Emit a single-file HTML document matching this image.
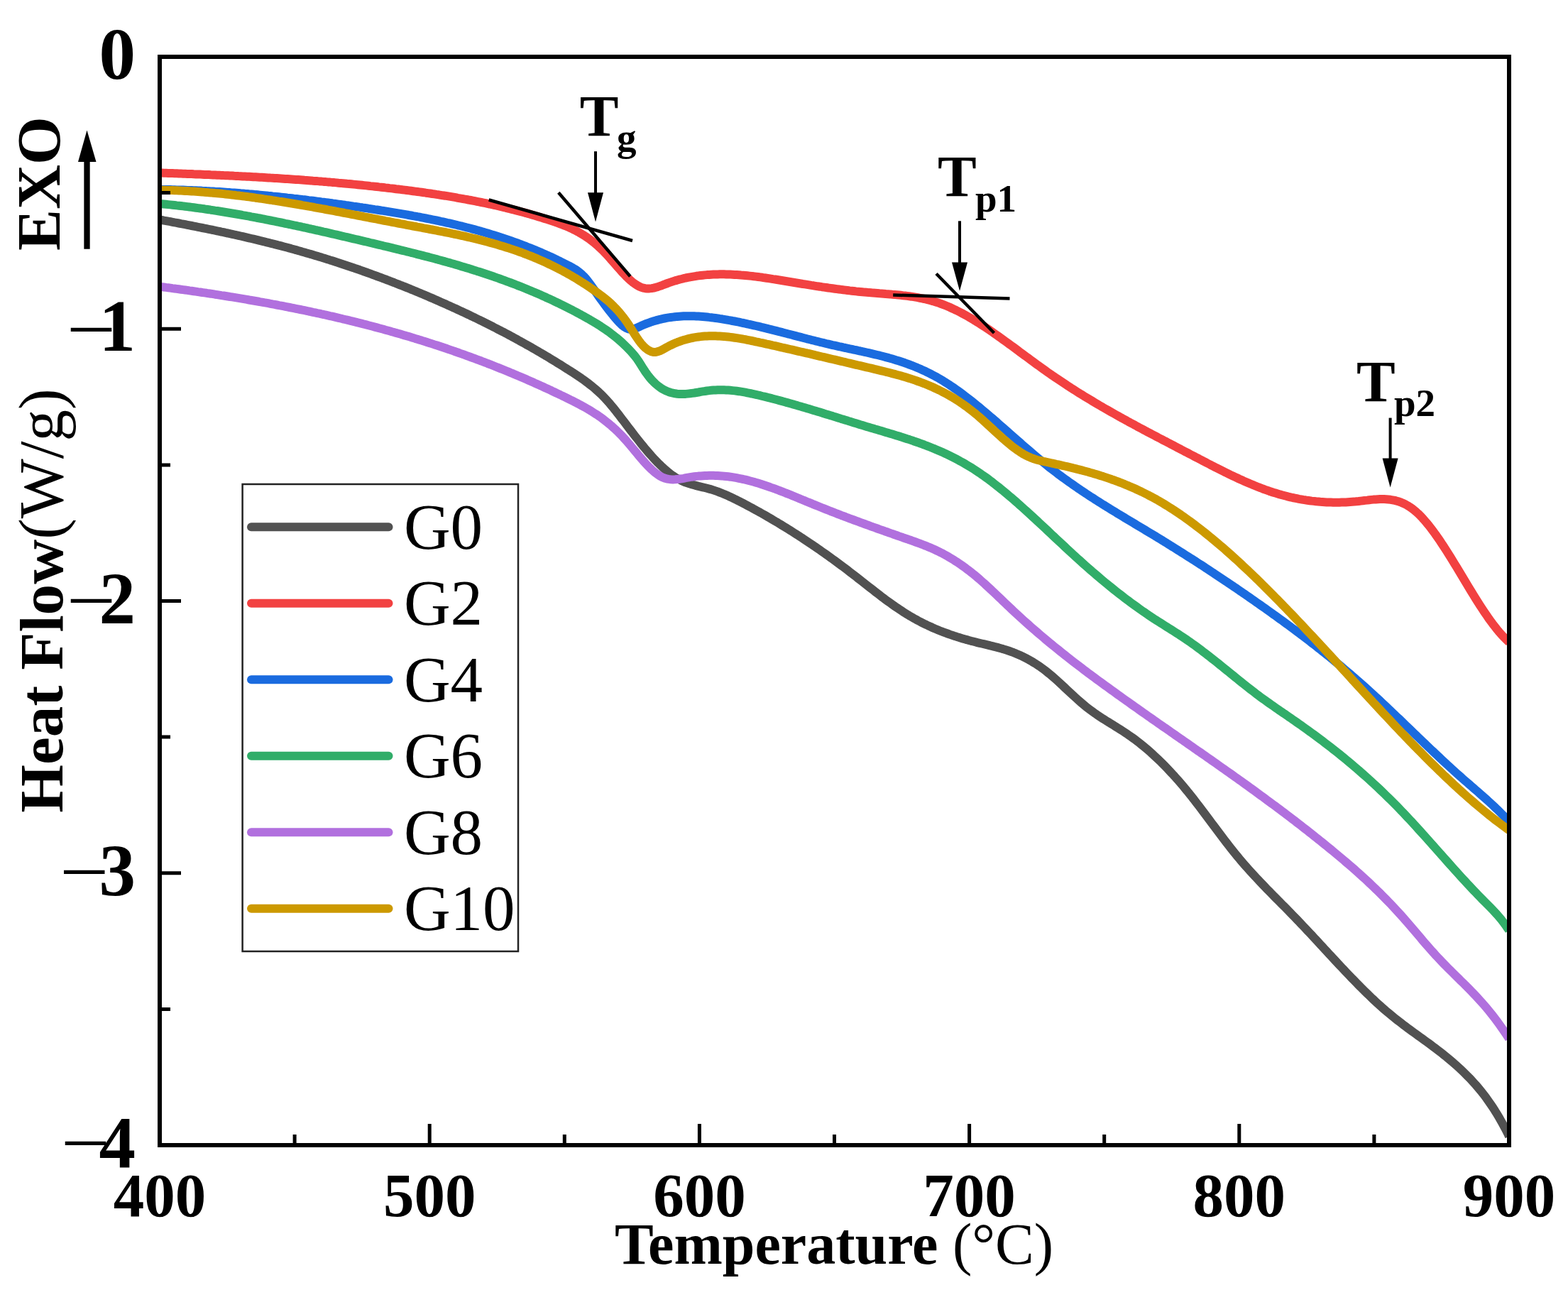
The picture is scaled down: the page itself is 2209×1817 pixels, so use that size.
<!DOCTYPE html><html><head><meta charset="utf-8"><title>DSC curves</title><style>html,body{margin:0;padding:0;background:#fff}svg{display:block}</style></head><body>
<svg width="2209" height="1817" viewBox="0 0 2209 1817" font-family="'Liberation Serif', 'Times New Roman', serif">
<rect x="0" y="0" width="2209" height="1817" fill="#fff"/>
<defs><clipPath id="plot"><rect x="225" y="80" width="1901" height="1533"/></clipPath></defs>
<g clip-path="url(#plot)">
<path d="M225.0 309.5 L228.0 310.0 231.0 310.6 234.0 311.1 237.0 311.7 240.0 312.2 243.0 312.8 246.0 313.4 249.0 313.9 252.0 314.5 255.0 315.1 258.0 315.6 261.0 316.2 264.0 316.8 267.0 317.4 270.0 318.0 273.0 318.6 276.0 319.2 279.0 319.8 282.0 320.4 285.0 321.0 288.0 321.6 291.0 322.2 294.0 322.8 297.0 323.4 300.0 324.0 303.0 324.7 306.0 325.3 309.0 325.9 312.0 326.6 315.0 327.2 318.0 327.9 321.0 328.5 324.0 329.2 327.0 329.8 330.0 330.5 333.0 331.2 336.0 331.8 339.0 332.5 342.0 333.2 345.0 333.9 348.0 334.6 351.0 335.3 354.0 336.0 357.0 336.7 360.0 337.4 363.0 338.1 366.0 338.9 369.0 339.6 372.0 340.3 375.0 341.1 378.0 341.8 381.0 342.6 384.0 343.3 387.0 344.1 390.0 344.9 393.0 345.7 396.0 346.4 399.0 347.2 402.0 348.0 405.0 348.8 408.0 349.6 411.0 350.5 414.0 351.3 417.0 352.1 420.0 353.0 423.0 353.8 426.0 354.7 429.0 355.5 432.0 356.4 435.0 357.3 438.0 358.1 441.0 359.0 444.0 359.9 447.0 360.8 450.0 361.7 453.0 362.6 456.0 363.6 459.0 364.5 462.0 365.4 465.0 366.4 468.0 367.3 471.0 368.3 474.0 369.3 477.0 370.2 480.0 371.2 483.0 372.2 486.0 373.2 489.0 374.2 492.0 375.2 495.0 376.2 498.0 377.2 501.0 378.3 504.0 379.3 507.0 380.3 510.0 381.4 513.0 382.5 516.0 383.5 519.0 384.6 522.0 385.7 525.0 386.8 528.0 387.9 531.0 389.0 534.0 390.1 537.0 391.2 540.0 392.3 543.0 393.4 546.0 394.6 549.0 395.7 552.0 396.9 555.0 398.0 558.0 399.2 561.0 400.4 564.0 401.6 567.0 402.7 570.0 403.9 573.0 405.1 576.0 406.3 579.0 407.6 582.0 408.8 585.0 410.0 588.0 411.3 591.0 412.5 594.0 413.8 597.0 415.0 600.0 416.3 603.0 417.6 606.0 418.9 609.0 420.1 612.0 421.4 615.0 422.7 618.0 424.1 621.0 425.4 624.0 426.7 627.0 428.0 630.0 429.4 633.0 430.7 636.0 432.1 639.0 433.5 642.0 434.8 645.0 436.2 648.0 437.6 651.0 439.0 654.0 440.4 657.0 441.8 660.0 443.2 663.0 444.7 666.0 446.1 669.0 447.5 672.0 449.0 675.0 450.5 678.0 451.9 681.0 453.4 684.0 454.9 687.0 456.4 690.0 457.9 693.0 459.4 696.0 461.0 699.0 462.5 702.0 464.1 705.0 465.6 708.0 467.2 711.0 468.7 714.0 470.3 717.0 471.9 720.0 473.5 723.0 475.1 726.0 476.8 729.0 478.4 732.0 480.1 735.0 481.7 738.0 483.4 741.0 485.1 744.0 486.7 747.0 488.4 750.0 490.2 753.0 491.9 756.0 493.6 759.0 495.4 762.0 497.1 765.0 498.9 768.0 500.7 771.0 502.4 774.0 504.2 777.0 506.1 780.0 507.9 783.0 509.7 786.0 511.6 789.0 513.4 792.0 515.3 795.0 517.2 798.0 519.1 801.0 521.0 804.0 522.9 807.0 524.8 810.0 526.8 813.0 528.8 816.0 530.8 819.0 532.8 822.0 534.9 825.0 537.1 828.0 539.3 831.0 541.7 834.0 544.0 837.0 546.5 840.0 549.1 843.0 551.8 846.0 554.6 849.0 557.6 852.0 560.7 855.0 563.9 858.0 567.2 861.0 570.8 864.0 574.4 867.0 578.1 870.0 582.0 873.0 585.8 876.0 589.8 879.0 593.7 882.0 597.7 885.0 601.6 888.0 605.5 891.0 609.4 894.0 613.3 897.0 617.1 900.0 620.9 903.0 624.7 906.0 628.4 909.0 632.0 912.0 635.5 915.0 639.0 918.0 642.4 921.0 645.7 924.0 648.9 927.0 652.0 930.0 654.9 933.0 657.8 936.0 660.5 939.0 663.1 942.0 665.6 945.0 667.9 948.0 670.1 951.0 672.1 954.0 673.9 957.0 675.5 960.0 677.0 963.0 678.4 966.0 679.6 969.0 680.6 972.0 681.6 975.0 682.5 978.0 683.3 981.0 684.1 984.0 684.9 987.0 685.6 990.0 686.3 993.0 687.0 996.0 687.8 999.0 688.6 1002.0 689.4 1005.0 690.4 1008.0 691.4 1011.0 692.4 1014.0 693.6 1017.0 694.8 1020.0 696.0 1023.0 697.3 1026.0 698.6 1029.0 700.0 1032.0 701.4 1035.0 702.9 1038.0 704.3 1041.0 705.8 1044.0 707.4 1047.0 708.9 1050.0 710.5 1053.0 712.1 1056.0 713.7 1059.0 715.3 1062.0 717.0 1065.0 718.6 1068.0 720.3 1071.0 721.9 1074.0 723.6 1077.0 725.3 1080.0 727.0 1083.0 728.8 1086.0 730.5 1089.0 732.3 1092.0 734.1 1095.0 735.8 1098.0 737.7 1101.0 739.5 1104.0 741.3 1107.0 743.1 1110.0 745.0 1113.0 746.9 1116.0 748.8 1119.0 750.7 1122.0 752.6 1125.0 754.5 1128.0 756.5 1131.0 758.4 1134.0 760.4 1137.0 762.4 1140.0 764.4 1143.0 766.4 1146.0 768.5 1149.0 770.5 1152.0 772.6 1155.0 774.7 1158.0 776.8 1161.0 778.9 1164.0 781.0 1167.0 783.1 1170.0 785.3 1173.0 787.5 1176.0 789.7 1179.0 791.9 1182.0 794.1 1185.0 796.3 1188.0 798.5 1191.0 800.8 1194.0 803.1 1197.0 805.4 1200.0 807.7 1203.0 810.0 1206.0 812.3 1209.0 814.7 1212.0 817.0 1215.0 819.4 1218.0 821.7 1221.0 824.1 1224.0 826.4 1227.0 828.8 1230.0 831.1 1233.0 833.5 1236.0 835.8 1239.0 838.1 1242.0 840.4 1245.0 842.6 1248.0 844.9 1251.0 847.1 1254.0 849.2 1257.0 851.4 1260.0 853.5 1263.0 855.6 1266.0 857.6 1269.0 859.6 1272.0 861.6 1275.0 863.5 1278.0 865.4 1281.0 867.2 1284.0 868.9 1287.0 870.7 1290.0 872.3 1293.0 874.0 1296.0 875.5 1299.0 877.1 1302.0 878.6 1305.0 880.0 1308.0 881.5 1311.0 882.8 1314.0 884.2 1317.0 885.5 1320.0 886.7 1323.0 888.0 1326.0 889.2 1329.0 890.3 1332.0 891.4 1335.0 892.5 1338.0 893.6 1341.0 894.6 1344.0 895.7 1347.0 896.6 1350.0 897.6 1353.0 898.5 1356.0 899.4 1359.0 900.3 1362.0 901.1 1365.0 902.0 1368.0 902.8 1371.0 903.5 1374.0 904.3 1377.0 905.1 1380.0 905.8 1383.0 906.5 1386.0 907.2 1389.0 907.9 1392.0 908.6 1395.0 909.4 1398.0 910.1 1401.0 910.9 1404.0 911.6 1407.0 912.4 1410.0 913.3 1413.0 914.1 1416.0 915.1 1419.0 916.0 1422.0 917.0 1425.0 918.1 1428.0 919.2 1431.0 920.4 1434.0 921.7 1437.0 923.0 1440.0 924.4 1443.0 925.9 1446.0 927.4 1449.0 929.0 1452.0 930.7 1455.0 932.5 1458.0 934.3 1461.0 936.2 1464.0 938.2 1467.0 940.3 1470.0 942.5 1473.0 944.8 1476.0 947.2 1479.0 949.6 1482.0 952.1 1485.0 954.7 1488.0 957.4 1491.0 960.1 1494.0 962.9 1497.0 965.7 1500.0 968.5 1503.0 971.3 1506.0 974.1 1509.0 976.9 1512.0 979.7 1515.0 982.4 1518.0 985.1 1521.0 987.8 1524.0 990.4 1527.0 992.9 1530.0 995.4 1533.0 997.7 1536.0 1000.0 1539.0 1002.2 1542.0 1004.3 1545.0 1006.4 1548.0 1008.4 1551.0 1010.4 1554.0 1012.4 1557.0 1014.3 1560.0 1016.2 1563.0 1018.0 1566.0 1019.9 1569.0 1021.7 1572.0 1023.6 1575.0 1025.5 1578.0 1027.4 1581.0 1029.3 1584.0 1031.2 1587.0 1033.2 1590.0 1035.3 1593.0 1037.4 1596.0 1039.5 1599.0 1041.7 1602.0 1044.0 1605.0 1046.3 1608.0 1048.7 1611.0 1051.2 1614.0 1053.7 1617.0 1056.2 1620.0 1058.8 1623.0 1061.5 1626.0 1064.3 1629.0 1067.1 1632.0 1069.9 1635.0 1072.8 1638.0 1075.8 1641.0 1078.8 1644.0 1081.9 1647.0 1085.1 1650.0 1088.3 1653.0 1091.5 1656.0 1094.9 1659.0 1098.2 1662.0 1101.7 1665.0 1105.2 1668.0 1108.7 1671.0 1112.4 1674.0 1116.0 1677.0 1119.8 1680.0 1123.5 1683.0 1127.4 1686.0 1131.3 1689.0 1135.2 1692.0 1139.1 1695.0 1143.1 1698.0 1147.1 1701.0 1151.1 1704.0 1155.1 1707.0 1159.2 1710.0 1163.2 1713.0 1167.2 1716.0 1171.2 1719.0 1175.2 1722.0 1179.2 1725.0 1183.1 1728.0 1187.0 1731.0 1190.9 1734.0 1194.7 1737.0 1198.5 1740.0 1202.2 1743.0 1205.9 1746.0 1209.5 1749.0 1213.1 1752.0 1216.6 1755.0 1220.0 1758.0 1223.4 1761.0 1226.7 1764.0 1230.0 1767.0 1233.3 1770.0 1236.5 1773.0 1239.7 1776.0 1242.9 1779.0 1246.0 1782.0 1249.2 1785.0 1252.3 1788.0 1255.3 1791.0 1258.4 1794.0 1261.4 1797.0 1264.5 1800.0 1267.5 1803.0 1270.5 1806.0 1273.6 1809.0 1276.6 1812.0 1279.6 1815.0 1282.7 1818.0 1285.7 1821.0 1288.8 1824.0 1291.9 1827.0 1295.0 1830.0 1298.1 1833.0 1301.3 1836.0 1304.5 1839.0 1307.6 1842.0 1310.8 1845.0 1314.0 1848.0 1317.2 1851.0 1320.5 1854.0 1323.7 1857.0 1326.9 1860.0 1330.2 1863.0 1333.4 1866.0 1336.7 1869.0 1339.9 1872.0 1343.2 1875.0 1346.4 1878.0 1349.6 1881.0 1352.9 1884.0 1356.1 1887.0 1359.3 1890.0 1362.5 1893.0 1365.7 1896.0 1368.8 1899.0 1372.0 1902.0 1375.1 1905.0 1378.3 1908.0 1381.3 1911.0 1384.4 1914.0 1387.5 1917.0 1390.5 1920.0 1393.5 1923.0 1396.5 1926.0 1399.4 1929.0 1402.3 1932.0 1405.2 1935.0 1408.0 1938.0 1410.8 1941.0 1413.6 1944.0 1416.3 1947.0 1419.0 1950.0 1421.6 1953.0 1424.2 1956.0 1426.7 1959.0 1429.2 1962.0 1431.7 1965.0 1434.1 1968.0 1436.5 1971.0 1438.8 1974.0 1441.1 1977.0 1443.4 1980.0 1445.6 1983.0 1447.9 1986.0 1450.1 1989.0 1452.3 1992.0 1454.5 1995.0 1456.6 1998.0 1458.8 2001.0 1461.0 2004.0 1463.2 2007.0 1465.3 2010.0 1467.5 2013.0 1469.7 2016.0 1471.9 2019.0 1474.2 2022.0 1476.4 2025.0 1478.7 2028.0 1481.0 2031.0 1483.3 2034.0 1485.7 2037.0 1488.1 2040.0 1490.6 2043.0 1493.1 2046.0 1495.6 2049.0 1498.2 2052.0 1500.9 2055.0 1503.6 2058.0 1506.4 2061.0 1509.3 2064.0 1512.2 2067.0 1515.2 2070.0 1518.2 2073.0 1521.4 2076.0 1524.7 2079.0 1528.0 2082.0 1531.5 2085.0 1535.1 2088.0 1538.8 2091.0 1542.7 2094.0 1546.7 2097.0 1550.9 2100.0 1555.2 2103.0 1559.7 2106.0 1564.3 2109.0 1569.2 2112.0 1574.2 2115.0 1579.4 2118.0 1584.9 2121.0 1590.5 2124.0 1596.4 2126.0 1600.5" fill="none" stroke="#515151" stroke-width="12" stroke-linejoin="round"/>
<path d="M225.0 243.5 L228.0 243.6 231.0 243.7 234.0 243.8 237.0 243.9 240.0 244.0 243.0 244.1 246.0 244.2 249.0 244.3 252.0 244.5 255.0 244.6 258.0 244.7 261.0 244.8 264.0 244.9 267.0 245.0 270.0 245.1 273.0 245.3 276.0 245.4 279.0 245.5 282.0 245.6 285.0 245.7 288.0 245.9 291.0 246.0 294.0 246.1 297.0 246.3 300.0 246.4 303.0 246.5 306.0 246.7 309.0 246.8 312.0 246.9 315.0 247.1 318.0 247.2 321.0 247.3 324.0 247.5 327.0 247.6 330.0 247.8 333.0 247.9 336.0 248.1 339.0 248.2 342.0 248.4 345.0 248.5 348.0 248.7 351.0 248.8 354.0 249.0 357.0 249.2 360.0 249.3 363.0 249.5 366.0 249.7 369.0 249.8 372.0 250.0 375.0 250.2 378.0 250.4 381.0 250.6 384.0 250.7 387.0 250.9 390.0 251.1 393.0 251.3 396.0 251.5 399.0 251.7 402.0 251.9 405.0 252.1 408.0 252.3 411.0 252.5 414.0 252.7 417.0 252.9 420.0 253.1 423.0 253.3 426.0 253.5 429.0 253.8 432.0 254.0 435.0 254.2 438.0 254.4 441.0 254.7 444.0 254.9 447.0 255.1 450.0 255.4 453.0 255.6 456.0 255.9 459.0 256.1 462.0 256.4 465.0 256.6 468.0 256.9 471.0 257.1 474.0 257.4 477.0 257.7 480.0 257.9 483.0 258.2 486.0 258.5 489.0 258.8 492.0 259.0 495.0 259.3 498.0 259.6 501.0 259.9 504.0 260.2 507.0 260.5 510.0 260.8 513.0 261.1 516.0 261.4 519.0 261.7 522.0 262.1 525.0 262.4 528.0 262.7 531.0 263.0 534.0 263.4 537.0 263.7 540.0 264.0 543.0 264.4 546.0 264.7 549.0 265.1 552.0 265.4 555.0 265.8 558.0 266.2 561.0 266.5 564.0 266.9 567.0 267.3 570.0 267.6 573.0 268.0 576.0 268.4 579.0 268.8 582.0 269.2 585.0 269.6 588.0 270.0 591.0 270.4 594.0 270.8 597.0 271.2 600.0 271.7 603.0 272.1 606.0 272.5 609.0 273.0 612.0 273.4 615.0 273.9 618.0 274.3 621.0 274.8 624.0 275.3 627.0 275.7 630.0 276.2 633.0 276.7 636.0 277.2 639.0 277.7 642.0 278.2 645.0 278.8 648.0 279.3 651.0 279.8 654.0 280.4 657.0 280.9 660.0 281.5 663.0 282.0 666.0 282.6 669.0 283.2 672.0 283.8 675.0 284.4 678.0 285.0 681.0 285.6 684.0 286.2 687.0 286.9 690.0 287.5 693.0 288.2 696.0 288.8 699.0 289.5 702.0 290.2 705.0 290.9 708.0 291.6 711.0 292.3 714.0 293.1 717.0 293.8 720.0 294.6 723.0 295.3 726.0 296.1 729.0 296.9 732.0 297.7 735.0 298.5 738.0 299.3 741.0 300.1 744.0 301.0 747.0 301.8 750.0 302.7 753.0 303.6 756.0 304.5 759.0 305.4 762.0 306.3 765.0 307.2 768.0 308.2 771.0 309.1 774.0 310.1 777.0 311.1 780.0 312.1 783.0 313.1 786.0 314.2 789.0 315.3 792.0 316.4 795.0 317.6 798.0 318.8 801.0 320.1 804.0 321.4 807.0 322.8 810.0 324.3 813.0 325.9 816.0 327.5 819.0 329.3 822.0 331.1 825.0 333.0 828.0 335.1 831.0 337.2 834.0 339.5 837.0 341.9 840.0 344.4 843.0 347.0 846.0 349.8 849.0 352.7 852.0 355.8 855.0 359.0 858.0 362.3 861.0 365.7 864.0 369.2 867.0 372.6 870.0 376.0 873.0 379.4 876.0 382.8 879.0 386.0 882.0 389.1 885.0 392.0 888.0 394.7 891.0 397.3 894.0 399.5 897.0 401.5 900.0 403.2 903.0 404.6 906.0 405.6 909.0 406.2 912.0 406.5 915.0 406.4 918.0 406.1 921.0 405.6 924.0 404.8 927.0 403.9 930.0 402.9 933.0 401.8 936.0 400.6 939.0 399.5 942.0 398.4 945.0 397.4 948.0 396.4 951.0 395.4 954.0 394.6 957.0 393.7 960.0 393.0 963.0 392.2 966.0 391.5 969.0 390.9 972.0 390.3 975.0 389.8 978.0 389.3 981.0 388.8 984.0 388.4 987.0 388.0 990.0 387.7 993.0 387.4 996.0 387.1 999.0 386.9 1002.0 386.7 1005.0 386.6 1008.0 386.5 1011.0 386.4 1014.0 386.3 1017.0 386.3 1020.0 386.3 1023.0 386.4 1026.0 386.5 1029.0 386.6 1032.0 386.7 1035.0 386.9 1038.0 387.0 1041.0 387.2 1044.0 387.5 1047.0 387.7 1050.0 388.0 1053.0 388.3 1056.0 388.6 1059.0 388.9 1062.0 389.3 1065.0 389.6 1068.0 390.0 1071.0 390.4 1074.0 390.8 1077.0 391.3 1080.0 391.7 1083.0 392.1 1086.0 392.6 1089.0 393.1 1092.0 393.5 1095.0 394.0 1098.0 394.5 1101.0 395.0 1104.0 395.5 1107.0 396.0 1110.0 396.5 1113.0 397.0 1116.0 397.5 1119.0 398.0 1122.0 398.5 1125.0 399.0 1128.0 399.5 1131.0 400.0 1134.0 400.4 1137.0 400.9 1140.0 401.4 1143.0 401.9 1146.0 402.3 1149.0 402.8 1152.0 403.3 1155.0 403.7 1158.0 404.2 1161.0 404.6 1164.0 405.0 1167.0 405.5 1170.0 405.9 1173.0 406.3 1176.0 406.7 1179.0 407.1 1182.0 407.5 1185.0 407.9 1188.0 408.3 1191.0 408.6 1194.0 409.0 1197.0 409.4 1200.0 409.7 1203.0 410.0 1206.0 410.4 1209.0 410.7 1212.0 411.0 1215.0 411.3 1218.0 411.6 1221.0 411.8 1224.0 412.1 1227.0 412.3 1230.0 412.6 1233.0 412.8 1236.0 413.0 1239.0 413.3 1242.0 413.5 1245.0 413.7 1248.0 414.0 1251.0 414.2 1254.0 414.4 1257.0 414.7 1260.0 414.9 1263.0 415.2 1266.0 415.5 1269.0 415.8 1272.0 416.2 1275.0 416.5 1278.0 416.9 1281.0 417.3 1284.0 417.7 1287.0 418.2 1290.0 418.7 1293.0 419.2 1296.0 419.8 1299.0 420.4 1302.0 421.0 1305.0 421.7 1308.0 422.5 1311.0 423.3 1314.0 424.1 1317.0 425.0 1320.0 425.9 1323.0 426.9 1326.0 428.0 1329.0 429.1 1332.0 430.3 1335.0 431.5 1338.0 432.8 1341.0 434.2 1344.0 435.6 1347.0 437.0 1350.0 438.5 1353.0 440.0 1356.0 441.6 1359.0 443.2 1362.0 444.9 1365.0 446.6 1368.0 448.4 1371.0 450.2 1374.0 452.0 1377.0 453.9 1380.0 455.7 1383.0 457.7 1386.0 459.6 1389.0 461.6 1392.0 463.6 1395.0 465.6 1398.0 467.7 1401.0 469.8 1404.0 471.9 1407.0 474.0 1410.0 476.1 1413.0 478.3 1416.0 480.5 1419.0 482.6 1422.0 484.8 1425.0 487.0 1428.0 489.2 1431.0 491.4 1434.0 493.6 1437.0 495.9 1440.0 498.1 1443.0 500.3 1446.0 502.5 1449.0 504.7 1452.0 507.0 1455.0 509.2 1458.0 511.4 1461.0 513.6 1464.0 515.7 1467.0 517.9 1470.0 520.0 1473.0 522.2 1476.0 524.3 1479.0 526.4 1482.0 528.5 1485.0 530.5 1488.0 532.6 1491.0 534.6 1494.0 536.6 1497.0 538.6 1500.0 540.6 1503.0 542.6 1506.0 544.5 1509.0 546.5 1512.0 548.4 1515.0 550.3 1518.0 552.2 1521.0 554.1 1524.0 555.9 1527.0 557.8 1530.0 559.6 1533.0 561.4 1536.0 563.2 1539.0 565.0 1542.0 566.8 1545.0 568.6 1548.0 570.4 1551.0 572.1 1554.0 573.9 1557.0 575.6 1560.0 577.3 1563.0 579.0 1566.0 580.7 1569.0 582.4 1572.0 584.1 1575.0 585.8 1578.0 587.5 1581.0 589.1 1584.0 590.8 1587.0 592.4 1590.0 594.1 1593.0 595.7 1596.0 597.3 1599.0 598.9 1602.0 600.6 1605.0 602.2 1608.0 603.8 1611.0 605.4 1614.0 607.0 1617.0 608.6 1620.0 610.1 1623.0 611.7 1626.0 613.3 1629.0 614.9 1632.0 616.5 1635.0 618.0 1638.0 619.6 1641.0 621.2 1644.0 622.7 1647.0 624.3 1650.0 625.9 1653.0 627.4 1656.0 629.0 1659.0 630.6 1662.0 632.1 1665.0 633.7 1668.0 635.3 1671.0 636.8 1674.0 638.4 1677.0 640.0 1680.0 641.5 1683.0 643.1 1686.0 644.7 1689.0 646.2 1692.0 647.8 1695.0 649.4 1698.0 650.9 1701.0 652.5 1704.0 654.0 1707.0 655.6 1710.0 657.1 1713.0 658.7 1716.0 660.2 1719.0 661.7 1722.0 663.2 1725.0 664.7 1728.0 666.1 1731.0 667.6 1734.0 669.1 1737.0 670.5 1740.0 671.9 1743.0 673.3 1746.0 674.7 1749.0 676.0 1752.0 677.4 1755.0 678.7 1758.0 680.0 1761.0 681.3 1764.0 682.5 1767.0 683.8 1770.0 685.0 1773.0 686.2 1776.0 687.3 1779.0 688.5 1782.0 689.6 1785.0 690.6 1788.0 691.7 1791.0 692.7 1794.0 693.7 1797.0 694.6 1800.0 695.5 1803.0 696.4 1806.0 697.2 1809.0 698.0 1812.0 698.8 1815.0 699.6 1818.0 700.3 1821.0 701.0 1824.0 701.6 1827.0 702.2 1830.0 702.8 1833.0 703.3 1836.0 703.9 1839.0 704.3 1842.0 704.8 1845.0 705.2 1848.0 705.6 1851.0 705.9 1854.0 706.3 1857.0 706.5 1860.0 706.8 1863.0 707.0 1866.0 707.2 1869.0 707.4 1872.0 707.5 1875.0 707.6 1878.0 707.7 1881.0 707.7 1884.0 707.7 1887.0 707.7 1890.0 707.6 1893.0 707.5 1896.0 707.4 1899.0 707.2 1902.0 707.0 1905.0 706.8 1908.0 706.6 1911.0 706.3 1914.0 706.0 1917.0 705.6 1920.0 705.3 1923.0 704.9 1926.0 704.6 1929.0 704.2 1932.0 703.9 1935.0 703.6 1938.0 703.4 1941.0 703.2 1944.0 703.1 1947.0 703.0 1950.0 703.1 1953.0 703.2 1956.0 703.5 1959.0 703.8 1962.0 704.3 1965.0 704.9 1968.0 705.7 1971.0 706.6 1974.0 707.7 1977.0 709.0 1980.0 710.4 1983.0 712.1 1986.0 714.0 1989.0 716.0 1992.0 718.4 1995.0 720.9 1998.0 723.6 2001.0 726.6 2004.0 729.7 2007.0 733.1 2010.0 736.6 2013.0 740.3 2016.0 744.1 2019.0 748.1 2022.0 752.2 2025.0 756.5 2028.0 760.8 2031.0 765.3 2034.0 769.9 2037.0 774.5 2040.0 779.2 2043.0 784.0 2046.0 788.9 2049.0 793.8 2052.0 798.7 2055.0 803.7 2058.0 808.7 2061.0 813.7 2064.0 818.7 2067.0 823.6 2070.0 828.6 2073.0 833.5 2076.0 838.4 2079.0 843.2 2082.0 848.0 2085.0 852.7 2088.0 857.3 2091.0 861.8 2094.0 866.2 2097.0 870.6 2100.0 874.7 2103.0 878.8 2106.0 882.7 2109.0 886.5 2112.0 890.1 2115.0 893.5 2118.0 896.8 2121.0 899.8 2124.0 902.7 2126.0 904.5" fill="none" stroke="#F24141" stroke-width="12" stroke-linejoin="round"/>
<path d="M225.0 266.9 L228.0 266.9 231.0 266.9 234.0 267.0 237.0 267.1 240.0 267.1 243.0 267.2 246.0 267.3 249.0 267.4 252.0 267.4 255.0 267.5 258.0 267.6 261.0 267.7 264.0 267.9 267.0 268.0 270.0 268.1 273.0 268.2 276.0 268.3 279.0 268.5 282.0 268.6 285.0 268.8 288.0 268.9 291.0 269.1 294.0 269.2 297.0 269.4 300.0 269.6 303.0 269.8 306.0 269.9 309.0 270.1 312.0 270.3 315.0 270.5 318.0 270.7 321.0 270.9 324.0 271.1 327.0 271.4 330.0 271.6 333.0 271.8 336.0 272.0 339.0 272.3 342.0 272.5 345.0 272.8 348.0 273.0 351.0 273.3 354.0 273.5 357.0 273.8 360.0 274.1 363.0 274.3 366.0 274.6 369.0 274.9 372.0 275.2 375.0 275.5 378.0 275.8 381.0 276.0 384.0 276.4 387.0 276.7 390.0 277.0 393.0 277.3 396.0 277.6 399.0 277.9 402.0 278.2 405.0 278.6 408.0 278.9 411.0 279.2 414.0 279.6 417.0 279.9 420.0 280.3 423.0 280.6 426.0 281.0 429.0 281.3 432.0 281.7 435.0 282.1 438.0 282.4 441.0 282.8 444.0 283.2 447.0 283.6 450.0 284.0 453.0 284.4 456.0 284.7 459.0 285.1 462.0 285.5 465.0 285.9 468.0 286.3 471.0 286.8 474.0 287.2 477.0 287.6 480.0 288.0 483.0 288.4 486.0 288.8 489.0 289.3 492.0 289.7 495.0 290.1 498.0 290.6 501.0 291.0 504.0 291.4 507.0 291.9 510.0 292.3 513.0 292.8 516.0 293.2 519.0 293.7 522.0 294.1 525.0 294.6 528.0 295.1 531.0 295.5 534.0 296.0 537.0 296.5 540.0 296.9 543.0 297.4 546.0 297.9 549.0 298.4 552.0 298.9 555.0 299.4 558.0 299.9 561.0 300.4 564.0 300.9 567.0 301.4 570.0 301.9 573.0 302.4 576.0 303.0 579.0 303.5 582.0 304.1 585.0 304.6 588.0 305.2 591.0 305.7 594.0 306.3 597.0 306.9 600.0 307.5 603.0 308.1 606.0 308.7 609.0 309.3 612.0 309.9 615.0 310.5 618.0 311.1 621.0 311.8 624.0 312.4 627.0 313.1 630.0 313.8 633.0 314.4 636.0 315.1 639.0 315.8 642.0 316.5 645.0 317.3 648.0 318.0 651.0 318.7 654.0 319.5 657.0 320.3 660.0 321.0 663.0 321.8 666.0 322.6 669.0 323.4 672.0 324.2 675.0 325.1 678.0 325.9 681.0 326.8 684.0 327.7 687.0 328.6 690.0 329.5 693.0 330.4 696.0 331.3 699.0 332.2 702.0 333.2 705.0 334.2 708.0 335.2 711.0 336.2 714.0 337.2 717.0 338.2 720.0 339.2 723.0 340.3 726.0 341.4 729.0 342.5 732.0 343.6 735.0 344.7 738.0 345.9 741.0 347.0 744.0 348.2 747.0 349.4 750.0 350.6 753.0 351.8 756.0 353.1 759.0 354.3 762.0 355.6 765.0 356.9 768.0 358.2 771.0 359.6 774.0 360.9 777.0 362.3 780.0 363.7 783.0 365.1 786.0 366.6 789.0 368.0 792.0 369.5 795.0 371.0 798.0 372.5 801.0 374.0 804.0 375.6 807.0 377.3 810.0 379.1 813.0 381.1 816.0 383.3 819.0 385.8 822.0 388.7 825.0 391.9 828.0 395.5 831.0 399.5 834.0 403.7 837.0 408.0 840.0 412.4 843.0 416.7 846.0 420.9 849.0 425.0 852.0 429.1 855.0 433.1 858.0 437.0 861.0 440.8 864.0 444.6 867.0 448.2 870.0 451.7 873.0 454.8 876.0 457.7 879.0 460.1 882.0 462.0 885.0 463.3 888.0 463.9 891.0 463.8 894.0 463.1 897.0 461.9 900.0 460.5 903.0 459.1 906.0 457.8 909.0 456.5 912.0 455.4 915.0 454.3 918.0 453.2 921.0 452.3 924.0 451.4 927.0 450.6 930.0 449.8 933.0 449.1 936.0 448.5 939.0 447.9 942.0 447.4 945.0 447.0 948.0 446.6 951.0 446.2 954.0 445.9 957.0 445.7 960.0 445.5 963.0 445.3 966.0 445.2 969.0 445.2 972.0 445.2 975.0 445.2 978.0 445.3 981.0 445.4 984.0 445.6 987.0 445.8 990.0 446.0 993.0 446.2 996.0 446.5 999.0 446.9 1002.0 447.2 1005.0 447.6 1008.0 448.0 1011.0 448.4 1014.0 448.9 1017.0 449.3 1020.0 449.8 1023.0 450.3 1026.0 450.9 1029.0 451.4 1032.0 452.0 1035.0 452.5 1038.0 453.1 1041.0 453.7 1044.0 454.4 1047.0 455.0 1050.0 455.6 1053.0 456.3 1056.0 457.0 1059.0 457.6 1062.0 458.3 1065.0 459.0 1068.0 459.7 1071.0 460.4 1074.0 461.2 1077.0 461.9 1080.0 462.6 1083.0 463.4 1086.0 464.1 1089.0 464.9 1092.0 465.6 1095.0 466.4 1098.0 467.2 1101.0 467.9 1104.0 468.7 1107.0 469.5 1110.0 470.3 1113.0 471.0 1116.0 471.8 1119.0 472.6 1122.0 473.4 1125.0 474.2 1128.0 474.9 1131.0 475.7 1134.0 476.5 1137.0 477.3 1140.0 478.0 1143.0 478.8 1146.0 479.5 1149.0 480.3 1152.0 481.0 1155.0 481.8 1158.0 482.5 1161.0 483.2 1164.0 484.0 1167.0 484.7 1170.0 485.4 1173.0 486.1 1176.0 486.7 1179.0 487.4 1182.0 488.1 1185.0 488.7 1188.0 489.4 1191.0 490.0 1194.0 490.7 1197.0 491.3 1200.0 491.9 1203.0 492.6 1206.0 493.2 1209.0 493.9 1212.0 494.5 1215.0 495.2 1218.0 495.8 1221.0 496.5 1224.0 497.2 1227.0 497.9 1230.0 498.6 1233.0 499.3 1236.0 500.0 1239.0 500.7 1242.0 501.5 1245.0 502.3 1248.0 503.1 1251.0 503.9 1254.0 504.7 1257.0 505.6 1260.0 506.5 1263.0 507.4 1266.0 508.3 1269.0 509.3 1272.0 510.3 1275.0 511.3 1278.0 512.4 1281.0 513.5 1284.0 514.6 1287.0 515.8 1290.0 517.0 1293.0 518.3 1296.0 519.5 1299.0 520.9 1302.0 522.2 1305.0 523.7 1308.0 525.1 1311.0 526.6 1314.0 528.2 1317.0 529.8 1320.0 531.4 1323.0 533.1 1326.0 534.9 1329.0 536.7 1332.0 538.6 1335.0 540.5 1338.0 542.4 1341.0 544.4 1344.0 546.5 1347.0 548.6 1350.0 550.7 1353.0 552.9 1356.0 555.1 1359.0 557.4 1362.0 559.7 1365.0 562.0 1368.0 564.3 1371.0 566.7 1374.0 569.1 1377.0 571.6 1380.0 574.0 1383.0 576.5 1386.0 579.0 1389.0 581.6 1392.0 584.1 1395.0 586.7 1398.0 589.2 1401.0 591.8 1404.0 594.4 1407.0 597.1 1410.0 599.7 1413.0 602.3 1416.0 605.0 1419.0 607.6 1422.0 610.2 1425.0 612.9 1428.0 615.5 1431.0 618.2 1434.0 620.8 1437.0 623.4 1440.0 626.1 1443.0 628.7 1446.0 631.3 1449.0 633.9 1452.0 636.4 1455.0 639.0 1458.0 641.5 1461.0 644.0 1464.0 646.5 1467.0 649.0 1470.0 651.5 1473.0 653.9 1476.0 656.3 1479.0 658.7 1482.0 661.0 1485.0 663.3 1488.0 665.6 1491.0 667.9 1494.0 670.1 1497.0 672.3 1500.0 674.5 1503.0 676.7 1506.0 678.8 1509.0 680.9 1512.0 683.0 1515.0 685.1 1518.0 687.2 1521.0 689.2 1524.0 691.3 1527.0 693.3 1530.0 695.3 1533.0 697.2 1536.0 699.2 1539.0 701.1 1542.0 703.1 1545.0 705.0 1548.0 706.9 1551.0 708.8 1554.0 710.7 1557.0 712.5 1560.0 714.4 1563.0 716.2 1566.0 718.1 1569.0 719.9 1572.0 721.7 1575.0 723.6 1578.0 725.4 1581.0 727.2 1584.0 729.0 1587.0 730.8 1590.0 732.6 1593.0 734.4 1596.0 736.2 1599.0 738.0 1602.0 739.8 1605.0 741.6 1608.0 743.4 1611.0 745.2 1614.0 747.0 1617.0 748.8 1620.0 750.6 1623.0 752.4 1626.0 754.2 1629.0 756.0 1632.0 757.9 1635.0 759.7 1638.0 761.5 1641.0 763.4 1644.0 765.2 1647.0 767.1 1650.0 769.0 1653.0 770.8 1656.0 772.7 1659.0 774.6 1662.0 776.5 1665.0 778.4 1668.0 780.3 1671.0 782.2 1674.0 784.1 1677.0 786.0 1680.0 787.9 1683.0 789.8 1686.0 791.8 1689.0 793.7 1692.0 795.6 1695.0 797.6 1698.0 799.6 1701.0 801.5 1704.0 803.5 1707.0 805.5 1710.0 807.4 1713.0 809.4 1716.0 811.4 1719.0 813.4 1722.0 815.4 1725.0 817.4 1728.0 819.4 1731.0 821.5 1734.0 823.5 1737.0 825.5 1740.0 827.6 1743.0 829.6 1746.0 831.7 1749.0 833.7 1752.0 835.8 1755.0 837.8 1758.0 839.9 1761.0 842.0 1764.0 844.1 1767.0 846.2 1770.0 848.3 1773.0 850.4 1776.0 852.5 1779.0 854.6 1782.0 856.7 1785.0 858.8 1788.0 861.0 1791.0 863.1 1794.0 865.3 1797.0 867.4 1800.0 869.6 1803.0 871.8 1806.0 873.9 1809.0 876.1 1812.0 878.3 1815.0 880.5 1818.0 882.8 1821.0 885.0 1824.0 887.2 1827.0 889.5 1830.0 891.7 1833.0 894.0 1836.0 896.2 1839.0 898.5 1842.0 900.8 1845.0 903.1 1848.0 905.5 1851.0 907.8 1854.0 910.1 1857.0 912.5 1860.0 914.8 1863.0 917.2 1866.0 919.6 1869.0 922.0 1872.0 924.4 1875.0 926.9 1878.0 929.3 1881.0 931.8 1884.0 934.2 1887.0 936.7 1890.0 939.2 1893.0 941.8 1896.0 944.3 1899.0 946.8 1902.0 949.4 1905.0 952.0 1908.0 954.6 1911.0 957.2 1914.0 959.8 1917.0 962.5 1920.0 965.1 1923.0 967.8 1926.0 970.5 1929.0 973.2 1932.0 975.9 1935.0 978.7 1938.0 981.4 1941.0 984.2 1944.0 987.0 1947.0 989.8 1950.0 992.6 1953.0 995.4 1956.0 998.3 1959.0 1001.1 1962.0 1004.0 1965.0 1006.8 1968.0 1009.7 1971.0 1012.5 1974.0 1015.4 1977.0 1018.3 1980.0 1021.2 1983.0 1024.1 1986.0 1026.9 1989.0 1029.8 1992.0 1032.7 1995.0 1035.6 1998.0 1038.5 2001.0 1041.3 2004.0 1044.2 2007.0 1047.1 2010.0 1050.0 2013.0 1052.8 2016.0 1055.7 2019.0 1058.5 2022.0 1061.4 2025.0 1064.2 2028.0 1067.0 2031.0 1069.8 2034.0 1072.6 2037.0 1075.4 2040.0 1078.1 2043.0 1080.9 2046.0 1083.6 2049.0 1086.4 2052.0 1089.1 2055.0 1091.8 2058.0 1094.4 2061.0 1097.1 2064.0 1099.7 2067.0 1102.3 2070.0 1104.9 2073.0 1107.5 2076.0 1110.1 2079.0 1112.7 2082.0 1115.3 2085.0 1118.0 2088.0 1120.6 2091.0 1123.3 2094.0 1125.9 2097.0 1128.6 2100.0 1131.4 2103.0 1134.2 2106.0 1137.0 2109.0 1139.8 2112.0 1142.8 2115.0 1145.7 2118.0 1148.7 2121.0 1151.8 2124.0 1155.0 2126.0 1157.1" fill="none" stroke="#1A6BDF" stroke-width="12" stroke-linejoin="round"/>
<path d="M225.0 286.9 L228.0 287.2 231.0 287.5 234.0 287.8 237.0 288.1 240.0 288.4 243.0 288.7 246.0 289.0 249.0 289.4 252.0 289.7 255.0 290.0 258.0 290.4 261.0 290.8 264.0 291.1 267.0 291.5 270.0 291.9 273.0 292.3 276.0 292.7 279.0 293.1 282.0 293.5 285.0 293.9 288.0 294.3 291.0 294.8 294.0 295.2 297.0 295.7 300.0 296.1 303.0 296.6 306.0 297.0 309.0 297.5 312.0 298.0 315.0 298.5 318.0 299.0 321.0 299.5 324.0 300.0 327.0 300.5 330.0 301.0 333.0 301.5 336.0 302.0 339.0 302.5 342.0 303.1 345.0 303.6 348.0 304.2 351.0 304.7 354.0 305.3 357.0 305.8 360.0 306.4 363.0 307.0 366.0 307.5 369.0 308.1 372.0 308.7 375.0 309.3 378.0 309.9 381.0 310.5 384.0 311.1 387.0 311.7 390.0 312.3 393.0 312.9 396.0 313.5 399.0 314.1 402.0 314.8 405.0 315.4 408.0 316.0 411.0 316.7 414.0 317.3 417.0 317.9 420.0 318.6 423.0 319.2 426.0 319.9 429.0 320.5 432.0 321.2 435.0 321.9 438.0 322.5 441.0 323.2 444.0 323.9 447.0 324.5 450.0 325.2 453.0 325.9 456.0 326.6 459.0 327.2 462.0 327.9 465.0 328.6 468.0 329.3 471.0 330.0 474.0 330.7 477.0 331.4 480.0 332.1 483.0 332.8 486.0 333.5 489.0 334.2 492.0 334.9 495.0 335.6 498.0 336.3 501.0 337.0 504.0 337.7 507.0 338.4 510.0 339.1 513.0 339.8 516.0 340.5 519.0 341.2 522.0 342.0 525.0 342.7 528.0 343.4 531.0 344.1 534.0 344.8 537.0 345.5 540.0 346.3 543.0 347.0 546.0 347.7 549.0 348.4 552.0 349.1 555.0 349.9 558.0 350.6 561.0 351.3 564.0 352.1 567.0 352.8 570.0 353.5 573.0 354.3 576.0 355.0 579.0 355.8 582.0 356.5 585.0 357.3 588.0 358.1 591.0 358.8 594.0 359.6 597.0 360.4 600.0 361.2 603.0 361.9 606.0 362.7 609.0 363.5 612.0 364.3 615.0 365.1 618.0 366.0 621.0 366.8 624.0 367.6 627.0 368.4 630.0 369.3 633.0 370.1 636.0 371.0 639.0 371.8 642.0 372.7 645.0 373.6 648.0 374.5 651.0 375.4 654.0 376.3 657.0 377.2 660.0 378.1 663.0 379.0 666.0 380.0 669.0 380.9 672.0 381.9 675.0 382.8 678.0 383.8 681.0 384.8 684.0 385.8 687.0 386.8 690.0 387.8 693.0 388.8 696.0 389.8 699.0 390.9 702.0 391.9 705.0 393.0 708.0 394.1 711.0 395.2 714.0 396.3 717.0 397.4 720.0 398.5 723.0 399.6 726.0 400.8 729.0 402.0 732.0 403.1 735.0 404.3 738.0 405.5 741.0 406.7 744.0 408.0 747.0 409.2 750.0 410.5 753.0 411.7 756.0 413.0 759.0 414.3 762.0 415.6 765.0 417.0 768.0 418.3 771.0 419.7 774.0 421.0 777.0 422.4 780.0 423.8 783.0 425.3 786.0 426.7 789.0 428.2 792.0 429.6 795.0 431.1 798.0 432.6 801.0 434.1 804.0 435.7 807.0 437.2 810.0 438.8 813.0 440.4 816.0 442.0 819.0 443.6 822.0 445.3 825.0 447.0 828.0 448.6 831.0 450.3 834.0 452.1 837.0 453.9 840.0 455.7 843.0 457.5 846.0 459.4 849.0 461.4 852.0 463.4 855.0 465.5 858.0 467.6 861.0 469.9 864.0 472.2 867.0 474.6 870.0 477.0 873.0 479.6 876.0 482.3 879.0 485.1 882.0 488.0 885.0 491.0 888.0 494.1 891.0 497.5 894.0 501.0 897.0 504.9 900.0 509.2 903.0 513.9 906.0 518.8 909.0 523.4 912.0 527.6 915.0 531.5 918.0 535.0 921.0 538.1 924.0 541.0 927.0 543.5 930.0 545.7 933.0 547.7 936.0 549.4 939.0 550.8 942.0 552.0 945.0 553.0 948.0 553.7 951.0 554.3 954.0 554.7 957.0 555.0 960.0 555.1 963.0 555.0 966.0 554.9 969.0 554.6 972.0 554.3 975.0 553.9 978.0 553.5 981.0 553.0 984.0 552.5 987.0 551.9 990.0 551.4 993.0 551.0 996.0 550.5 999.0 550.1 1002.0 549.8 1005.0 549.5 1008.0 549.4 1011.0 549.2 1014.0 549.2 1017.0 549.2 1020.0 549.3 1023.0 549.4 1026.0 549.6 1029.0 549.8 1032.0 550.1 1035.0 550.4 1038.0 550.8 1041.0 551.2 1044.0 551.7 1047.0 552.2 1050.0 552.7 1053.0 553.3 1056.0 553.9 1059.0 554.5 1062.0 555.2 1065.0 555.8 1068.0 556.5 1071.0 557.2 1074.0 558.0 1077.0 558.7 1080.0 559.4 1083.0 560.2 1086.0 560.9 1089.0 561.7 1092.0 562.5 1095.0 563.3 1098.0 564.1 1101.0 564.9 1104.0 565.7 1107.0 566.6 1110.0 567.4 1113.0 568.2 1116.0 569.1 1119.0 569.9 1122.0 570.8 1125.0 571.7 1128.0 572.5 1131.0 573.4 1134.0 574.3 1137.0 575.2 1140.0 576.1 1143.0 577.0 1146.0 577.9 1149.0 578.8 1152.0 579.7 1155.0 580.6 1158.0 581.5 1161.0 582.5 1164.0 583.4 1167.0 584.3 1170.0 585.2 1173.0 586.1 1176.0 587.1 1179.0 588.0 1182.0 588.9 1185.0 589.9 1188.0 590.8 1191.0 591.7 1194.0 592.6 1197.0 593.6 1200.0 594.5 1203.0 595.4 1206.0 596.3 1209.0 597.2 1212.0 598.2 1215.0 599.1 1218.0 600.0 1221.0 600.9 1224.0 601.8 1227.0 602.7 1230.0 603.6 1233.0 604.5 1236.0 605.3 1239.0 606.2 1242.0 607.1 1245.0 608.0 1248.0 608.9 1251.0 609.8 1254.0 610.7 1257.0 611.6 1260.0 612.5 1263.0 613.4 1266.0 614.3 1269.0 615.3 1272.0 616.2 1275.0 617.2 1278.0 618.2 1281.0 619.1 1284.0 620.1 1287.0 621.2 1290.0 622.2 1293.0 623.2 1296.0 624.3 1299.0 625.4 1302.0 626.5 1305.0 627.7 1308.0 628.8 1311.0 630.0 1314.0 631.2 1317.0 632.4 1320.0 633.7 1323.0 635.0 1326.0 636.3 1329.0 637.6 1332.0 639.0 1335.0 640.4 1338.0 641.9 1341.0 643.4 1344.0 644.9 1347.0 646.4 1350.0 648.0 1353.0 649.7 1356.0 651.3 1359.0 653.0 1362.0 654.8 1365.0 656.6 1368.0 658.4 1371.0 660.3 1374.0 662.2 1377.0 664.2 1380.0 666.2 1383.0 668.3 1386.0 670.4 1389.0 672.5 1392.0 674.7 1395.0 677.0 1398.0 679.2 1401.0 681.6 1404.0 683.9 1407.0 686.3 1410.0 688.7 1413.0 691.1 1416.0 693.6 1419.0 696.1 1422.0 698.7 1425.0 701.2 1428.0 703.8 1431.0 706.4 1434.0 709.0 1437.0 711.7 1440.0 714.4 1443.0 717.1 1446.0 719.8 1449.0 722.5 1452.0 725.2 1455.0 728.0 1458.0 730.7 1461.0 733.5 1464.0 736.3 1467.0 739.1 1470.0 741.9 1473.0 744.7 1476.0 747.5 1479.0 750.3 1482.0 753.2 1485.0 756.0 1488.0 758.8 1491.0 761.6 1494.0 764.4 1497.0 767.2 1500.0 770.0 1503.0 772.8 1506.0 775.6 1509.0 778.4 1512.0 781.1 1515.0 783.9 1518.0 786.6 1521.0 789.3 1524.0 792.0 1527.0 794.7 1530.0 797.4 1533.0 800.0 1536.0 802.6 1539.0 805.2 1542.0 807.8 1545.0 810.4 1548.0 812.9 1551.0 815.5 1554.0 818.0 1557.0 820.5 1560.0 822.9 1563.0 825.4 1566.0 827.8 1569.0 830.2 1572.0 832.6 1575.0 834.9 1578.0 837.3 1581.0 839.6 1584.0 841.9 1587.0 844.2 1590.0 846.4 1593.0 848.7 1596.0 850.9 1599.0 853.0 1602.0 855.2 1605.0 857.3 1608.0 859.5 1611.0 861.6 1614.0 863.6 1617.0 865.7 1620.0 867.7 1623.0 869.7 1626.0 871.7 1629.0 873.6 1632.0 875.5 1635.0 877.4 1638.0 879.3 1641.0 881.2 1644.0 883.1 1647.0 885.0 1650.0 886.9 1653.0 888.8 1656.0 890.7 1659.0 892.6 1662.0 894.6 1665.0 896.5 1668.0 898.5 1671.0 900.5 1674.0 902.6 1677.0 904.7 1680.0 906.8 1683.0 908.9 1686.0 911.1 1689.0 913.3 1692.0 915.6 1695.0 917.9 1698.0 920.1 1701.0 922.5 1704.0 924.8 1707.0 927.2 1710.0 929.5 1713.0 931.9 1716.0 934.3 1719.0 936.7 1722.0 939.1 1725.0 941.6 1728.0 944.0 1731.0 946.4 1734.0 948.9 1737.0 951.3 1740.0 953.7 1743.0 956.1 1746.0 958.6 1749.0 961.0 1752.0 963.4 1755.0 965.7 1758.0 968.1 1761.0 970.5 1764.0 972.8 1767.0 975.1 1770.0 977.4 1773.0 979.6 1776.0 981.9 1779.0 984.1 1782.0 986.2 1785.0 988.4 1788.0 990.5 1791.0 992.6 1794.0 994.7 1797.0 996.8 1800.0 998.9 1803.0 1001.0 1806.0 1003.0 1809.0 1005.1 1812.0 1007.1 1815.0 1009.2 1818.0 1011.2 1821.0 1013.3 1824.0 1015.4 1827.0 1017.5 1830.0 1019.6 1833.0 1021.7 1836.0 1023.8 1839.0 1026.0 1842.0 1028.1 1845.0 1030.3 1848.0 1032.5 1851.0 1034.7 1854.0 1036.9 1857.0 1039.1 1860.0 1041.3 1863.0 1043.6 1866.0 1045.9 1869.0 1048.2 1872.0 1050.5 1875.0 1052.8 1878.0 1055.2 1881.0 1057.5 1884.0 1059.9 1887.0 1062.3 1890.0 1064.7 1893.0 1067.2 1896.0 1069.6 1899.0 1072.1 1902.0 1074.6 1905.0 1077.1 1908.0 1079.7 1911.0 1082.3 1914.0 1084.8 1917.0 1087.5 1920.0 1090.1 1923.0 1092.7 1926.0 1095.4 1929.0 1098.1 1932.0 1100.9 1935.0 1103.6 1938.0 1106.4 1941.0 1109.2 1944.0 1112.0 1947.0 1114.9 1950.0 1117.8 1953.0 1120.7 1956.0 1123.6 1959.0 1126.6 1962.0 1129.6 1965.0 1132.6 1968.0 1135.6 1971.0 1138.7 1974.0 1141.8 1977.0 1144.9 1980.0 1148.1 1983.0 1151.3 1986.0 1154.5 1989.0 1157.7 1992.0 1161.0 1995.0 1164.3 1998.0 1167.6 2001.0 1170.9 2004.0 1174.2 2007.0 1177.5 2010.0 1180.9 2013.0 1184.2 2016.0 1187.6 2019.0 1191.0 2022.0 1194.4 2025.0 1197.7 2028.0 1201.1 2031.0 1204.5 2034.0 1207.9 2037.0 1211.3 2040.0 1214.6 2043.0 1218.0 2046.0 1221.4 2049.0 1224.7 2052.0 1228.0 2055.0 1231.4 2058.0 1234.7 2061.0 1238.0 2064.0 1241.2 2067.0 1244.5 2070.0 1247.7 2073.0 1250.9 2076.0 1254.1 2079.0 1257.2 2082.0 1260.3 2085.0 1263.4 2088.0 1266.5 2091.0 1269.5 2094.0 1272.5 2097.0 1275.5 2100.0 1278.5 2103.0 1281.6 2106.0 1284.8 2109.0 1288.1 2112.0 1291.6 2115.0 1295.2 2118.0 1299.1 2121.0 1303.1 2124.0 1307.5 2126.0 1310.6" fill="none" stroke="#31AD69" stroke-width="12" stroke-linejoin="round"/>
<path d="M225.0 403.7 L228.0 404.1 231.0 404.5 234.0 404.9 237.0 405.2 240.0 405.6 243.0 406.1 246.0 406.5 249.0 406.9 252.0 407.3 255.0 407.7 258.0 408.1 261.0 408.5 264.0 408.9 267.0 409.4 270.0 409.8 273.0 410.2 276.0 410.6 279.0 411.1 282.0 411.5 285.0 412.0 288.0 412.4 291.0 412.8 294.0 413.3 297.0 413.7 300.0 414.2 303.0 414.7 306.0 415.1 309.0 415.6 312.0 416.1 315.0 416.5 318.0 417.0 321.0 417.5 324.0 418.0 327.0 418.4 330.0 418.9 333.0 419.4 336.0 419.9 339.0 420.4 342.0 420.9 345.0 421.4 348.0 421.9 351.0 422.5 354.0 423.0 357.0 423.5 360.0 424.0 363.0 424.5 366.0 425.1 369.0 425.6 372.0 426.2 375.0 426.7 378.0 427.2 381.0 427.8 384.0 428.4 387.0 428.9 390.0 429.5 393.0 430.1 396.0 430.6 399.0 431.2 402.0 431.8 405.0 432.4 408.0 433.0 411.0 433.6 414.0 434.2 417.0 434.8 420.0 435.4 423.0 436.0 426.0 436.6 429.0 437.2 432.0 437.8 435.0 438.5 438.0 439.1 441.0 439.8 444.0 440.4 447.0 441.1 450.0 441.7 453.0 442.4 456.0 443.0 459.0 443.7 462.0 444.4 465.0 445.1 468.0 445.7 471.0 446.4 474.0 447.1 477.0 447.8 480.0 448.5 483.0 449.3 486.0 450.0 489.0 450.7 492.0 451.4 495.0 452.2 498.0 452.9 501.0 453.6 504.0 454.4 507.0 455.1 510.0 455.9 513.0 456.7 516.0 457.4 519.0 458.2 522.0 459.0 525.0 459.8 528.0 460.6 531.0 461.4 534.0 462.2 537.0 463.0 540.0 463.8 543.0 464.7 546.0 465.5 549.0 466.3 552.0 467.2 555.0 468.0 558.0 468.9 561.0 469.7 564.0 470.6 567.0 471.5 570.0 472.4 573.0 473.2 576.0 474.1 579.0 475.0 582.0 475.9 585.0 476.9 588.0 477.8 591.0 478.7 594.0 479.6 597.0 480.6 600.0 481.5 603.0 482.5 606.0 483.4 609.0 484.4 612.0 485.4 615.0 486.3 618.0 487.3 621.0 488.3 624.0 489.3 627.0 490.3 630.0 491.3 633.0 492.4 636.0 493.4 639.0 494.4 642.0 495.5 645.0 496.5 648.0 497.6 651.0 498.6 654.0 499.7 657.0 500.8 660.0 501.9 663.0 503.0 666.0 504.1 669.0 505.2 672.0 506.3 675.0 507.4 678.0 508.5 681.0 509.7 684.0 510.8 687.0 512.0 690.0 513.1 693.0 514.3 696.0 515.5 699.0 516.7 702.0 517.9 705.0 519.1 708.0 520.3 711.0 521.5 714.0 522.7 717.0 523.9 720.0 525.2 723.0 526.4 726.0 527.7 729.0 529.0 732.0 530.2 735.0 531.5 738.0 532.8 741.0 534.1 744.0 535.4 747.0 536.7 750.0 538.0 753.0 539.4 756.0 540.7 759.0 542.1 762.0 543.4 765.0 544.8 768.0 546.2 771.0 547.5 774.0 548.9 777.0 550.3 780.0 551.8 783.0 553.2 786.0 554.6 789.0 556.0 792.0 557.5 795.0 558.9 798.0 560.4 801.0 561.9 804.0 563.4 807.0 564.8 810.0 566.4 813.0 567.9 816.0 569.5 819.0 571.1 822.0 572.7 825.0 574.4 828.0 576.1 831.0 577.9 834.0 579.8 837.0 581.7 840.0 583.6 843.0 585.6 846.0 587.7 849.0 589.9 852.0 592.2 855.0 594.6 858.0 597.0 861.0 599.5 864.0 602.2 867.0 604.9 870.0 607.8 873.0 610.8 876.0 613.8 879.0 617.1 882.0 620.4 885.0 623.9 888.0 627.4 891.0 631.0 894.0 634.6 897.0 638.2 900.0 641.8 903.0 645.4 906.0 648.9 909.0 652.2 912.0 655.5 915.0 658.5 918.0 661.4 921.0 664.1 924.0 666.5 927.0 668.7 930.0 670.6 933.0 672.2 936.0 673.4 939.0 674.3 942.0 674.9 945.0 675.2 948.0 675.4 951.0 675.3 954.0 675.1 957.0 674.7 960.0 674.3 963.0 673.8 966.0 673.2 969.0 672.7 972.0 672.2 975.0 671.7 978.0 671.3 981.0 670.9 984.0 670.6 987.0 670.4 990.0 670.2 993.0 670.0 996.0 669.9 999.0 669.8 1002.0 669.8 1005.0 669.8 1008.0 669.9 1011.0 670.0 1014.0 670.2 1017.0 670.4 1020.0 670.7 1023.0 671.0 1026.0 671.3 1029.0 671.7 1032.0 672.2 1035.0 672.7 1038.0 673.2 1041.0 673.8 1044.0 674.4 1047.0 675.0 1050.0 675.7 1053.0 676.4 1056.0 677.2 1059.0 678.0 1062.0 678.8 1065.0 679.7 1068.0 680.6 1071.0 681.5 1074.0 682.5 1077.0 683.5 1080.0 684.5 1083.0 685.5 1086.0 686.6 1089.0 687.6 1092.0 688.7 1095.0 689.8 1098.0 691.0 1101.0 692.1 1104.0 693.3 1107.0 694.5 1110.0 695.6 1113.0 696.8 1116.0 698.1 1119.0 699.3 1122.0 700.5 1125.0 701.7 1128.0 703.0 1131.0 704.2 1134.0 705.4 1137.0 706.7 1140.0 707.9 1143.0 709.1 1146.0 710.4 1149.0 711.6 1152.0 712.8 1155.0 714.0 1158.0 715.2 1161.0 716.4 1164.0 717.6 1167.0 718.8 1170.0 720.0 1173.0 721.1 1176.0 722.3 1179.0 723.5 1182.0 724.6 1185.0 725.8 1188.0 726.9 1191.0 728.0 1194.0 729.2 1197.0 730.3 1200.0 731.4 1203.0 732.5 1206.0 733.6 1209.0 734.7 1212.0 735.8 1215.0 736.9 1218.0 738.0 1221.0 739.1 1224.0 740.2 1227.0 741.3 1230.0 742.4 1233.0 743.4 1236.0 744.5 1239.0 745.6 1242.0 746.6 1245.0 747.7 1248.0 748.8 1251.0 749.8 1254.0 750.9 1257.0 751.9 1260.0 753.0 1263.0 754.0 1266.0 755.1 1269.0 756.1 1272.0 757.2 1275.0 758.2 1278.0 759.2 1281.0 760.3 1284.0 761.3 1287.0 762.4 1290.0 763.5 1293.0 764.6 1296.0 765.7 1299.0 766.8 1302.0 768.0 1305.0 769.1 1308.0 770.4 1311.0 771.6 1314.0 772.9 1317.0 774.3 1320.0 775.7 1323.0 777.1 1326.0 778.7 1329.0 780.2 1332.0 781.9 1335.0 783.5 1338.0 785.3 1341.0 787.1 1344.0 788.9 1347.0 790.9 1350.0 792.8 1353.0 794.9 1356.0 797.0 1359.0 799.1 1362.0 801.4 1365.0 803.6 1368.0 806.0 1371.0 808.4 1374.0 810.8 1377.0 813.4 1380.0 815.9 1383.0 818.6 1386.0 821.2 1389.0 824.0 1392.0 826.7 1395.0 829.5 1398.0 832.3 1401.0 835.1 1404.0 838.0 1407.0 840.9 1410.0 843.7 1413.0 846.6 1416.0 849.5 1419.0 852.4 1422.0 855.2 1425.0 858.0 1428.0 860.8 1431.0 863.6 1434.0 866.4 1437.0 869.2 1440.0 871.9 1443.0 874.6 1446.0 877.3 1449.0 879.9 1452.0 882.6 1455.0 885.2 1458.0 887.8 1461.0 890.4 1464.0 893.0 1467.0 895.5 1470.0 898.0 1473.0 900.6 1476.0 903.1 1479.0 905.6 1482.0 908.0 1485.0 910.5 1488.0 912.9 1491.0 915.3 1494.0 917.7 1497.0 920.1 1500.0 922.5 1503.0 924.9 1506.0 927.2 1509.0 929.6 1512.0 931.9 1515.0 934.2 1518.0 936.5 1521.0 938.8 1524.0 941.1 1527.0 943.4 1530.0 945.6 1533.0 947.9 1536.0 950.1 1539.0 952.3 1542.0 954.6 1545.0 956.8 1548.0 959.0 1551.0 961.2 1554.0 963.4 1557.0 965.6 1560.0 967.7 1563.0 969.9 1566.0 972.1 1569.0 974.2 1572.0 976.4 1575.0 978.6 1578.0 980.7 1581.0 982.8 1584.0 985.0 1587.0 987.1 1590.0 989.2 1593.0 991.4 1596.0 993.5 1599.0 995.6 1602.0 997.7 1605.0 999.9 1608.0 1002.0 1611.0 1004.1 1614.0 1006.2 1617.0 1008.3 1620.0 1010.4 1623.0 1012.5 1626.0 1014.6 1629.0 1016.7 1632.0 1018.8 1635.0 1020.9 1638.0 1023.0 1641.0 1025.1 1644.0 1027.1 1647.0 1029.2 1650.0 1031.3 1653.0 1033.4 1656.0 1035.5 1659.0 1037.6 1662.0 1039.7 1665.0 1041.7 1668.0 1043.8 1671.0 1045.9 1674.0 1048.0 1677.0 1050.1 1680.0 1052.2 1683.0 1054.3 1686.0 1056.4 1689.0 1058.4 1692.0 1060.5 1695.0 1062.6 1698.0 1064.7 1701.0 1066.8 1704.0 1068.9 1707.0 1071.0 1710.0 1073.1 1713.0 1075.2 1716.0 1077.3 1719.0 1079.5 1722.0 1081.6 1725.0 1083.7 1728.0 1085.8 1731.0 1087.9 1734.0 1090.0 1737.0 1092.2 1740.0 1094.3 1743.0 1096.4 1746.0 1098.6 1749.0 1100.7 1752.0 1102.9 1755.0 1105.0 1758.0 1107.2 1761.0 1109.4 1764.0 1111.5 1767.0 1113.7 1770.0 1115.9 1773.0 1118.1 1776.0 1120.3 1779.0 1122.4 1782.0 1124.6 1785.0 1126.9 1788.0 1129.1 1791.0 1131.3 1794.0 1133.5 1797.0 1135.7 1800.0 1138.0 1803.0 1140.2 1806.0 1142.5 1809.0 1144.7 1812.0 1147.0 1815.0 1149.3 1818.0 1151.6 1821.0 1153.8 1824.0 1156.1 1827.0 1158.5 1830.0 1160.8 1833.0 1163.1 1836.0 1165.4 1839.0 1167.8 1842.0 1170.1 1845.0 1172.5 1848.0 1174.8 1851.0 1177.2 1854.0 1179.6 1857.0 1182.0 1860.0 1184.4 1863.0 1186.8 1866.0 1189.2 1869.0 1191.6 1872.0 1194.1 1875.0 1196.5 1878.0 1199.0 1881.0 1201.5 1884.0 1204.0 1887.0 1206.5 1890.0 1209.0 1893.0 1211.5 1896.0 1214.1 1899.0 1216.6 1902.0 1219.2 1905.0 1221.8 1908.0 1224.4 1911.0 1227.1 1914.0 1229.8 1917.0 1232.5 1920.0 1235.2 1923.0 1237.9 1926.0 1240.7 1929.0 1243.5 1932.0 1246.3 1935.0 1249.2 1938.0 1252.1 1941.0 1255.0 1944.0 1257.9 1947.0 1260.9 1950.0 1263.9 1953.0 1267.0 1956.0 1270.1 1959.0 1273.2 1962.0 1276.4 1965.0 1279.6 1968.0 1282.8 1971.0 1286.1 1974.0 1289.4 1977.0 1292.8 1980.0 1296.2 1983.0 1299.7 1986.0 1303.2 1989.0 1306.7 1992.0 1310.2 1995.0 1313.7 1998.0 1317.2 2001.0 1320.7 2004.0 1324.3 2007.0 1327.8 2010.0 1331.2 2013.0 1334.7 2016.0 1338.1 2019.0 1341.4 2022.0 1344.8 2025.0 1348.0 2028.0 1351.2 2031.0 1354.4 2034.0 1357.5 2037.0 1360.5 2040.0 1363.6 2043.0 1366.6 2046.0 1369.5 2049.0 1372.5 2052.0 1375.5 2055.0 1378.4 2058.0 1381.4 2061.0 1384.3 2064.0 1387.3 2067.0 1390.3 2070.0 1393.3 2073.0 1396.4 2076.0 1399.5 2079.0 1402.7 2082.0 1405.9 2085.0 1409.2 2088.0 1412.5 2091.0 1415.9 2094.0 1419.4 2097.0 1423.0 2100.0 1426.7 2103.0 1430.5 2106.0 1434.4 2109.0 1438.4 2112.0 1442.5 2115.0 1446.7 2118.0 1451.0 2121.0 1455.5 2124.0 1460.0 2126.0 1463.1" fill="none" stroke="#B170DE" stroke-width="12" stroke-linejoin="round"/>
<path d="M225.0 267.7 L228.0 267.7 231.0 267.8 234.0 267.9 237.0 267.9 240.0 268.0 243.0 268.1 246.0 268.2 249.0 268.3 252.0 268.4 255.0 268.6 258.0 268.7 261.0 268.9 264.0 269.0 267.0 269.2 270.0 269.4 273.0 269.6 276.0 269.8 279.0 270.0 282.0 270.2 285.0 270.4 288.0 270.7 291.0 270.9 294.0 271.2 297.0 271.4 300.0 271.7 303.0 272.0 306.0 272.2 309.0 272.5 312.0 272.8 315.0 273.1 318.0 273.5 321.0 273.8 324.0 274.1 327.0 274.5 330.0 274.8 333.0 275.2 336.0 275.5 339.0 275.9 342.0 276.3 345.0 276.6 348.0 277.0 351.0 277.4 354.0 277.8 357.0 278.2 360.0 278.7 363.0 279.1 366.0 279.5 369.0 279.9 372.0 280.4 375.0 280.8 378.0 281.3 381.0 281.7 384.0 282.2 387.0 282.6 390.0 283.1 393.0 283.6 396.0 284.0 399.0 284.5 402.0 285.0 405.0 285.5 408.0 286.0 411.0 286.5 414.0 287.0 417.0 287.5 420.0 288.0 423.0 288.5 426.0 289.1 429.0 289.6 432.0 290.1 435.0 290.7 438.0 291.2 441.0 291.7 444.0 292.3 447.0 292.8 450.0 293.3 453.0 293.9 456.0 294.4 459.0 295.0 462.0 295.6 465.0 296.1 468.0 296.7 471.0 297.2 474.0 297.8 477.0 298.4 480.0 298.9 483.0 299.5 486.0 300.1 489.0 300.6 492.0 301.2 495.0 301.8 498.0 302.4 501.0 302.9 504.0 303.5 507.0 304.1 510.0 304.7 513.0 305.3 516.0 305.8 519.0 306.4 522.0 307.0 525.0 307.6 528.0 308.2 531.0 308.7 534.0 309.3 537.0 309.9 540.0 310.5 543.0 311.1 546.0 311.6 549.0 312.2 552.0 312.8 555.0 313.4 558.0 313.9 561.0 314.5 564.0 315.1 567.0 315.6 570.0 316.2 573.0 316.8 576.0 317.3 579.0 317.9 582.0 318.5 585.0 319.0 588.0 319.6 591.0 320.1 594.0 320.7 597.0 321.3 600.0 321.8 603.0 322.4 606.0 323.0 609.0 323.5 612.0 324.1 615.0 324.7 618.0 325.3 621.0 325.8 624.0 326.4 627.0 327.0 630.0 327.6 633.0 328.2 636.0 328.8 639.0 329.5 642.0 330.1 645.0 330.7 648.0 331.4 651.0 332.0 654.0 332.7 657.0 333.4 660.0 334.1 663.0 334.7 666.0 335.5 669.0 336.2 672.0 336.9 675.0 337.6 678.0 338.4 681.0 339.2 684.0 340.0 687.0 340.8 690.0 341.6 693.0 342.4 696.0 343.2 699.0 344.1 702.0 345.0 705.0 345.9 708.0 346.8 711.0 347.7 714.0 348.7 717.0 349.6 720.0 350.6 723.0 351.6 726.0 352.6 729.0 353.7 732.0 354.8 735.0 355.8 738.0 357.0 741.0 358.1 744.0 359.3 747.0 360.4 750.0 361.6 753.0 362.9 756.0 364.1 759.0 365.4 762.0 366.7 765.0 368.0 768.0 369.4 771.0 370.8 774.0 372.2 777.0 373.6 780.0 375.1 783.0 376.6 786.0 378.1 789.0 379.7 792.0 381.3 795.0 382.9 798.0 384.5 801.0 386.2 804.0 387.9 807.0 389.7 810.0 391.4 813.0 393.2 816.0 395.1 819.0 397.0 822.0 398.9 825.0 400.8 828.0 402.8 831.0 404.8 834.0 406.9 837.0 409.0 840.0 411.1 843.0 413.3 846.0 415.5 849.0 417.8 852.0 420.2 855.0 422.7 858.0 425.2 861.0 428.0 864.0 430.9 867.0 433.9 870.0 437.1 873.0 440.5 876.0 444.2 879.0 448.0 882.0 452.1 885.0 456.5 888.0 461.1 891.0 465.9 894.0 470.7 897.0 475.3 900.0 479.7 903.0 483.6 906.0 487.0 909.0 490.0 912.0 492.3 915.0 494.1 918.0 495.4 921.0 496.0 924.0 495.9 927.0 495.2 930.0 494.1 933.0 492.6 936.0 491.0 939.0 489.3 942.0 487.7 945.0 486.2 948.0 484.8 951.0 483.4 954.0 482.2 957.0 481.1 960.0 480.0 963.0 479.1 966.0 478.2 969.0 477.4 972.0 476.6 975.0 476.0 978.0 475.4 981.0 474.9 984.0 474.5 987.0 474.1 990.0 473.8 993.0 473.6 996.0 473.4 999.0 473.3 1002.0 473.2 1005.0 473.2 1008.0 473.3 1011.0 473.4 1014.0 473.5 1017.0 473.7 1020.0 473.9 1023.0 474.2 1026.0 474.5 1029.0 474.9 1032.0 475.3 1035.0 475.7 1038.0 476.1 1041.0 476.6 1044.0 477.1 1047.0 477.7 1050.0 478.2 1053.0 478.8 1056.0 479.4 1059.0 480.0 1062.0 480.6 1065.0 481.3 1068.0 481.9 1071.0 482.6 1074.0 483.2 1077.0 483.9 1080.0 484.6 1083.0 485.2 1086.0 485.9 1089.0 486.6 1092.0 487.2 1095.0 487.9 1098.0 488.6 1101.0 489.3 1104.0 490.0 1107.0 490.6 1110.0 491.3 1113.0 492.0 1116.0 492.7 1119.0 493.4 1122.0 494.1 1125.0 494.8 1128.0 495.5 1131.0 496.2 1134.0 496.9 1137.0 497.5 1140.0 498.2 1143.0 498.9 1146.0 499.6 1149.0 500.4 1152.0 501.1 1155.0 501.8 1158.0 502.5 1161.0 503.2 1164.0 503.9 1167.0 504.6 1170.0 505.3 1173.0 506.0 1176.0 506.7 1179.0 507.4 1182.0 508.1 1185.0 508.8 1188.0 509.5 1191.0 510.2 1194.0 511.0 1197.0 511.7 1200.0 512.4 1203.0 513.1 1206.0 513.8 1209.0 514.5 1212.0 515.2 1215.0 515.9 1218.0 516.6 1221.0 517.3 1224.0 518.0 1227.0 518.7 1230.0 519.4 1233.0 520.2 1236.0 520.9 1239.0 521.6 1242.0 522.3 1245.0 523.0 1248.0 523.8 1251.0 524.5 1254.0 525.3 1257.0 526.1 1260.0 526.8 1263.0 527.7 1266.0 528.5 1269.0 529.3 1272.0 530.2 1275.0 531.1 1278.0 532.0 1281.0 532.9 1284.0 533.9 1287.0 534.9 1290.0 535.9 1293.0 537.0 1296.0 538.0 1299.0 539.2 1302.0 540.3 1305.0 541.5 1308.0 542.7 1311.0 544.0 1314.0 545.3 1317.0 546.7 1320.0 548.1 1323.0 549.5 1326.0 551.0 1329.0 552.6 1332.0 554.1 1335.0 555.8 1338.0 557.5 1341.0 559.2 1344.0 561.0 1347.0 562.9 1350.0 564.8 1353.0 566.8 1356.0 568.9 1359.0 571.0 1362.0 573.1 1365.0 575.4 1368.0 577.7 1371.0 580.1 1374.0 582.5 1377.0 585.0 1380.0 587.6 1383.0 590.3 1386.0 593.0 1389.0 595.7 1392.0 598.5 1395.0 601.2 1398.0 604.0 1401.0 606.8 1404.0 609.6 1407.0 612.3 1410.0 615.0 1413.0 617.7 1416.0 620.4 1419.0 622.9 1422.0 625.4 1425.0 627.9 1428.0 630.2 1431.0 632.4 1434.0 634.6 1437.0 636.6 1440.0 638.5 1443.0 640.3 1446.0 641.9 1449.0 643.3 1452.0 644.6 1455.0 645.8 1458.0 646.8 1461.0 647.7 1464.0 648.5 1467.0 649.2 1470.0 649.9 1473.0 650.5 1476.0 651.2 1479.0 651.8 1482.0 652.5 1485.0 653.1 1488.0 653.8 1491.0 654.4 1494.0 655.1 1497.0 655.8 1500.0 656.5 1503.0 657.2 1506.0 657.9 1509.0 658.6 1512.0 659.4 1515.0 660.1 1518.0 660.9 1521.0 661.6 1524.0 662.4 1527.0 663.2 1530.0 664.0 1533.0 664.8 1536.0 665.7 1539.0 666.5 1542.0 667.4 1545.0 668.3 1548.0 669.2 1551.0 670.2 1554.0 671.1 1557.0 672.1 1560.0 673.1 1563.0 674.1 1566.0 675.2 1569.0 676.2 1572.0 677.3 1575.0 678.4 1578.0 679.6 1581.0 680.7 1584.0 681.9 1587.0 683.2 1590.0 684.4 1593.0 685.7 1596.0 687.0 1599.0 688.3 1602.0 689.7 1605.0 691.1 1608.0 692.5 1611.0 694.0 1614.0 695.5 1617.0 697.0 1620.0 698.6 1623.0 700.1 1626.0 701.8 1629.0 703.4 1632.0 705.1 1635.0 706.9 1638.0 708.7 1641.0 710.5 1644.0 712.3 1647.0 714.2 1650.0 716.1 1653.0 718.0 1656.0 720.0 1659.0 722.0 1662.0 724.0 1665.0 726.1 1668.0 728.2 1671.0 730.3 1674.0 732.5 1677.0 734.7 1680.0 736.9 1683.0 739.1 1686.0 741.4 1689.0 743.7 1692.0 746.0 1695.0 748.4 1698.0 750.8 1701.0 753.2 1704.0 755.6 1707.0 758.1 1710.0 760.6 1713.0 763.1 1716.0 765.6 1719.0 768.2 1722.0 770.7 1725.0 773.3 1728.0 776.0 1731.0 778.6 1734.0 781.3 1737.0 784.0 1740.0 786.7 1743.0 789.4 1746.0 792.2 1749.0 795.0 1752.0 797.8 1755.0 800.6 1758.0 803.4 1761.0 806.3 1764.0 809.1 1767.0 812.0 1770.0 814.9 1773.0 817.8 1776.0 820.8 1779.0 823.7 1782.0 826.7 1785.0 829.7 1788.0 832.7 1791.0 835.7 1794.0 838.7 1797.0 841.8 1800.0 844.8 1803.0 847.9 1806.0 851.0 1809.0 854.1 1812.0 857.2 1815.0 860.3 1818.0 863.4 1821.0 866.5 1824.0 869.7 1827.0 872.8 1830.0 876.0 1833.0 879.2 1836.0 882.4 1839.0 885.6 1842.0 888.8 1845.0 892.0 1848.0 895.2 1851.0 898.4 1854.0 901.6 1857.0 904.9 1860.0 908.1 1863.0 911.3 1866.0 914.6 1869.0 917.8 1872.0 921.1 1875.0 924.4 1878.0 927.6 1881.0 930.9 1884.0 934.2 1887.0 937.4 1890.0 940.7 1893.0 944.0 1896.0 947.2 1899.0 950.5 1902.0 953.8 1905.0 957.1 1908.0 960.3 1911.0 963.6 1914.0 966.9 1917.0 970.1 1920.0 973.4 1923.0 976.7 1926.0 979.9 1929.0 983.2 1932.0 986.4 1935.0 989.7 1938.0 992.9 1941.0 996.1 1944.0 999.4 1947.0 1002.6 1950.0 1005.8 1953.0 1009.0 1956.0 1012.2 1959.0 1015.4 1962.0 1018.6 1965.0 1021.8 1968.0 1025.0 1971.0 1028.1 1974.0 1031.3 1977.0 1034.4 1980.0 1037.5 1983.0 1040.7 1986.0 1043.8 1989.0 1046.9 1992.0 1050.0 1995.0 1053.0 1998.0 1056.1 2001.0 1059.1 2004.0 1062.2 2007.0 1065.2 2010.0 1068.2 2013.0 1071.2 2016.0 1074.2 2019.0 1077.1 2022.0 1080.1 2025.0 1083.0 2028.0 1085.9 2031.0 1088.8 2034.0 1091.7 2037.0 1094.5 2040.0 1097.4 2043.0 1100.2 2046.0 1103.0 2049.0 1105.8 2052.0 1108.5 2055.0 1111.3 2058.0 1114.0 2061.0 1116.7 2064.0 1119.4 2067.0 1122.1 2070.0 1124.7 2073.0 1127.3 2076.0 1129.9 2079.0 1132.5 2082.0 1135.0 2085.0 1137.5 2088.0 1140.0 2091.0 1142.5 2094.0 1144.9 2097.0 1147.4 2100.0 1149.7 2103.0 1152.1 2106.0 1154.5 2109.0 1156.8 2112.0 1159.0 2115.0 1161.3 2118.0 1163.5 2121.0 1165.7 2124.0 1167.9 2126.0 1169.3" fill="none" stroke="#CC9900" stroke-width="12" stroke-linejoin="round"/>
</g>
<rect x="225" y="80" width="1901" height="1533" fill="none" stroke="#000" stroke-width="6"/>
<path d="M225.0 1613 V1583 M605.2 1613 V1583 M985.4 1613 V1583 M1365.6 1613 V1583 M1745.8 1613 V1583 M2126.0 1613 V1583 M415.1 1613 V1598 M795.3 1613 V1598 M1175.5 1613 V1598 M1555.7 1613 V1598 M1935.9 1613 V1598 M225 80.0 H255 M225 463.2 H255 M225 846.5 H255 M225 1229.8 H255 M225 1613.0 H255 M225 271.6 H240 M225 654.9 H240 M225 1038.1 H240 M225 1421.4 H240" stroke="#000" stroke-width="5" fill="none"/>
<text x="225.0" y="1713" font-size="87" font-weight="bold" text-anchor="middle">400</text>
<text x="605.2" y="1713" font-size="87" font-weight="bold" text-anchor="middle">500</text>
<text x="985.4" y="1713" font-size="87" font-weight="bold" text-anchor="middle">600</text>
<text x="1365.6" y="1713" font-size="87" font-weight="bold" text-anchor="middle">700</text>
<text x="1745.8" y="1713" font-size="87" font-weight="bold" text-anchor="middle">800</text>
<text x="2126.0" y="1713" font-size="87" font-weight="bold" text-anchor="middle">900</text>
<text x="191" y="111.0" font-size="103" font-weight="bold" text-anchor="end">0</text>
<text x="191" y="494.2" font-size="103" font-weight="bold" text-anchor="end">1</text>
<text x="100.4" y="488.8" font-size="103" textLength="56" lengthAdjust="spacingAndGlyphs">&#8211;</text>
<text x="191" y="877.5" font-size="103" font-weight="bold" text-anchor="end">2</text>
<text x="100.4" y="871.0" font-size="103" textLength="56" lengthAdjust="spacingAndGlyphs">&#8211;</text>
<text x="191" y="1260.8" font-size="103" font-weight="bold" text-anchor="end">3</text>
<text x="90.8" y="1252.8" font-size="103" textLength="56" lengthAdjust="spacingAndGlyphs">&#8211;</text>
<text x="191" y="1644.0" font-size="103" font-weight="bold" text-anchor="end">4</text>
<text x="92.4" y="1634.5" font-size="103" textLength="56" lengthAdjust="spacingAndGlyphs">&#8211;</text>
<text x="1175" y="1779.5" font-size="82" font-weight="bold" text-anchor="middle">Temperature <tspan font-weight="normal">(&#176;C)</tspan></text>
<text transform="translate(88.2 1144.8) rotate(-90)" x="0" y="0" font-size="87.2" font-weight="bold">Heat Flow<tspan font-weight="normal" font-size="89">(W/g)</tspan></text>
<text transform="translate(83.6 352.9) rotate(-90)" x="0" y="0" font-size="87" font-weight="bold">EXO</text>
<path d="M122.5 350.8 V226" stroke="#000" stroke-width="8.3" fill="none"/>
<path d="M110 227.9 L135.5 227.9 L122.5 183.6 Z" fill="#000"/>
<rect x="341.6" y="682" width="388.4" height="658" fill="none" stroke="#222" stroke-width="2.5"/>
<path d="M354 742.3 H547.5" stroke="#515151" stroke-width="12" stroke-linecap="round"/>
<text x="568.9" y="772.7" font-size="91">G0</text>
<path d="M354 849.8 H547.5" stroke="#F24141" stroke-width="12" stroke-linecap="round"/>
<text x="568.9" y="880.2" font-size="91">G2</text>
<path d="M354 957.3 H547.5" stroke="#1A6BDF" stroke-width="12" stroke-linecap="round"/>
<text x="568.9" y="987.7" font-size="91">G4</text>
<path d="M354 1064.8 H547.5" stroke="#31AD69" stroke-width="12" stroke-linecap="round"/>
<text x="568.9" y="1095.2" font-size="91">G6</text>
<path d="M354 1172.3 H547.5" stroke="#B170DE" stroke-width="12" stroke-linecap="round"/>
<text x="568.9" y="1202.7" font-size="91">G8</text>
<path d="M354 1279.8 H547.5" stroke="#CC9900" stroke-width="12" stroke-linecap="round"/>
<text x="568.9" y="1310.2" font-size="91">G10</text>
<g stroke="#000" stroke-width="4.5" fill="none">
<path d="M688.7 281.5 L891 339"/><path d="M786.8 271.2 L887.8 389.2"/>
<path d="M1258.2 415.5 L1422.5 420.5"/><path d="M1319 385.5 L1400.5 469"/>
</g>
<path d="M839.0 213.2 V273.3" stroke="#000" stroke-width="4" fill="none"/><path d="M828.0 271.3 L850.0 271.3 L839.0 312.4 Z" fill="#000"/>
<path d="M1352.0 311.3 V371.4" stroke="#000" stroke-width="4" fill="none"/><path d="M1341.0 369.4 L1363.0 369.4 L1352.0 409.7 Z" fill="#000"/>
<path d="M1958.6 588.6 V647.5" stroke="#000" stroke-width="4" fill="none"/><path d="M1947.6 645.5 L1969.6 645.5 L1958.6 686.6 Z" fill="#000"/>
<text x="816.8" y="190.8" font-size="82" font-weight="bold">T</text>
<text x="869" y="211.9" font-size="55" font-weight="bold">g</text>
<text x="1321" y="275.8" font-size="82" font-weight="bold">T</text>
<text x="1374" y="297.6" font-size="55" font-weight="bold">p1</text>
<text x="1910.9" y="565.4" font-size="82" font-weight="bold">T</text>
<text x="1964" y="586.3" font-size="55" font-weight="bold">p2</text>
</svg></body></html>
